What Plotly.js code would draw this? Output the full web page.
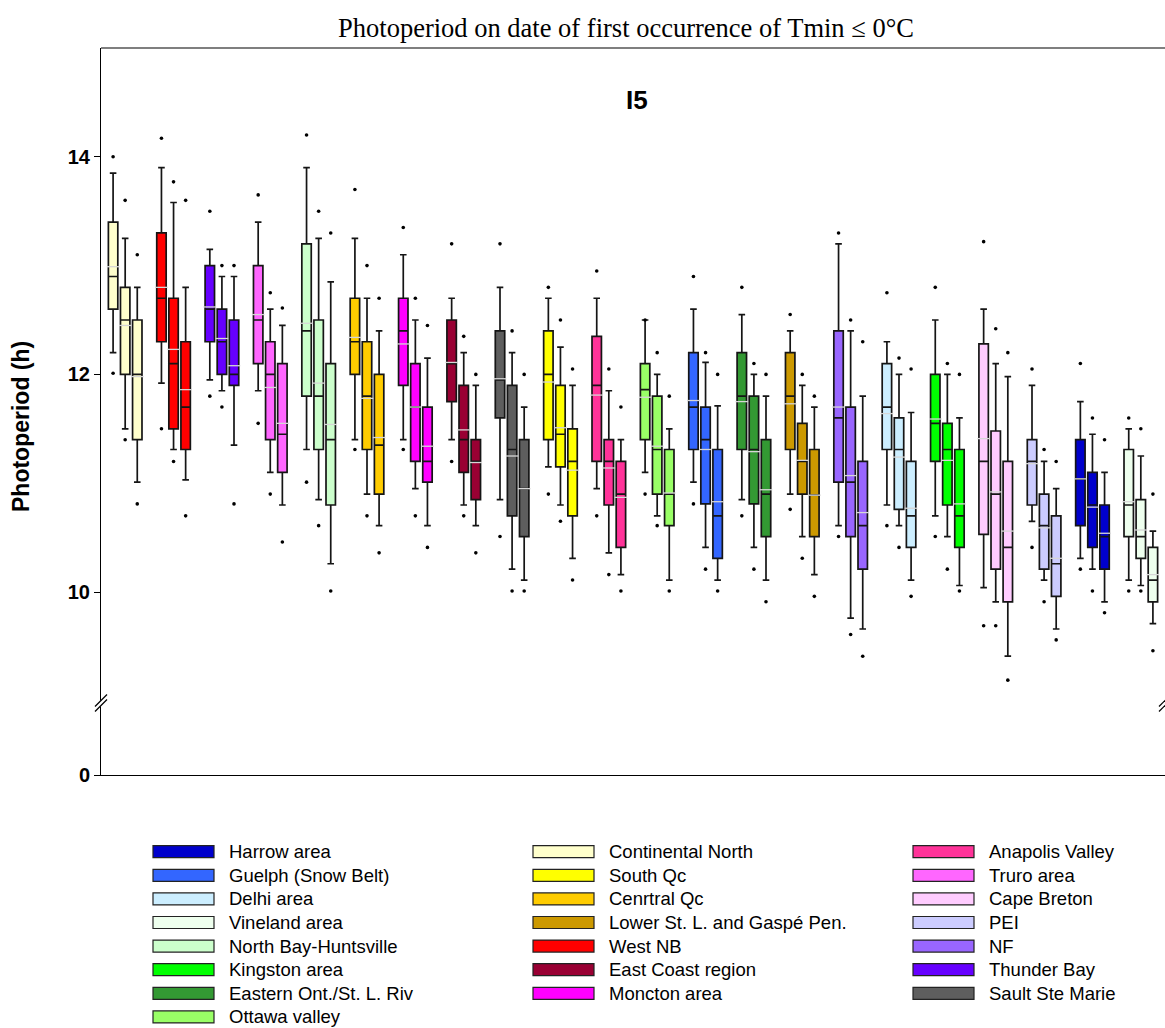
<!DOCTYPE html>
<html><head><meta charset="utf-8">
<script src="https://cdn.plot.ly/plotly-3.0.1.min.js"></script>
<style>body{margin:0;background:#fff}</style>
</head><body><div id="chart" style="width:1165px;height:1028px"></div>
<script>
// Regions in plot order (left to right); each has 3 boxes
const regions = ["Continental North","West NB","Thunder Bay","Truro area","North Bay-Huntsville","Cenrtral Qc","Moncton area","East Coast region","Sault Ste Marie","South Qc","Anapolis Valley","Ottawa valley","Guelph (Snow Belt)","Eastern Ont./St. L. Riv","Lower St. L. and Gaspé Pen.","NF","Delhi area","Kingston area","Cape Breton","PEI","Harrow area","Vineland area"];
const colors = ["#FFFFCC","#FF0000","#6600FF","#FF66FF","#CCFFCC","#FFCC00","#FF00FF","#990033","#5E5E5E","#FFFF00","#FF3399","#99FF66","#3366FF","#339933","#CC9900","#9966FF","#CCEEFF","#00FF00","#FFCCFF","#CCCCFF","#0000CC","#EEFFEE"];

// Statistics (hours), three boxes per region
const upperDot = [[14.00,13.60,13.10],[14.17,13.77,13.60],[13.50,13.00,13.00],[13.65,12.75,12.61],[14.20,13.50,13.30],[13.70,13.00,12.70],[13.35,12.70,12.45],[13.20,12.35,12.00],[13.20,12.40,12.00],[12.80,12.50,12.05],[12.95,12.05,11.70],[12.50,12.20,11.80],[12.90,12.20,12.00],[12.80,12.10,12.00],[12.55,12.00,11.80],[13.30,12.50,12.30],[12.75,12.15,12.05],[12.80,12.10,12.00],[13.22,12.42,12.20],[12.05,11.31,11.20],[12.10,11.60,11.40],[11.60,11.50,10.90]];
const upperWhisker = [[13.85,13.25,12.80],[13.90,13.58,12.80],[13.15,12.90,12.90],[13.40,12.60,12.45],[13.90,13.25,12.85],[13.25,12.70,12.40],[13.10,12.50,12.15],[12.70,12.20,11.90],[12.80,12.20,11.70],[12.70,12.25,11.90],[12.70,11.85,11.40],[12.50,12.00,11.50],[12.60,12.11,11.71],[12.55,12.00,11.80],[12.40,11.90,11.70],[13.20,12.40,11.80],[12.30,12.00,11.65],[12.50,12.00,11.60],[12.60,12.10,11.98],[11.90,11.20,10.95],[11.75,11.45,11.10],[11.50,11.25,10.56]];
const q3 = [[13.40,12.80,12.50],[13.30,12.70,12.30],[13.00,12.60,12.50],[13.00,12.30,12.10],[13.20,12.50,12.10],[12.70,12.30,12.00],[12.70,12.10,11.70],[12.50,11.90,11.40],[12.40,11.90,11.40],[12.40,11.90,11.50],[12.35,11.40,11.20],[12.10,11.80,11.31],[12.20,11.70,11.31],[12.20,11.80,11.40],[12.20,11.55,11.31],[12.40,11.70,11.20],[12.10,11.60,11.20],[12.00,11.55,11.31],[12.28,11.48,11.20],[11.40,10.90,10.70],[11.40,11.10,10.80],[11.31,10.85,10.41]];
const median = [[12.90,12.50,12.00],[12.70,12.10,11.70],[12.60,12.30,12.00],[12.50,12.00,11.45],[12.40,11.80,11.40],[12.30,11.80,11.35],[12.40,11.70,11.20],[12.10,11.40,11.20],[11.95,11.31,10.95],[12.00,11.45,11.20],[11.90,11.20,10.90],[11.86,11.31,10.90],[11.70,11.40,10.70],[11.80,11.31,10.90],[11.80,11.20,10.89],[11.60,11.01,10.61],[11.70,11.31,10.70],[11.55,11.31,10.70],[11.20,10.90,10.41],[11.20,10.61,10.26],[11.04,10.80,10.51],[10.80,10.51,10.11]];
const mean = [[12.99,12.45,11.98],[12.80,12.23,11.86],[12.62,12.33,12.08],[12.55,11.88,11.55],[12.47,11.92,11.54],[12.34,11.78,11.42],[12.28,11.70,11.34],[12.11,11.49,11.19],[11.96,11.25,10.95],[11.93,11.51,11.12],[11.81,11.14,10.87],[11.79,11.34,10.91],[11.76,11.31,10.83],[11.75,11.29,10.94],[11.73,11.21,10.89],[11.70,11.07,10.73],[11.64,11.24,10.77],[11.59,11.21,10.81],[11.41,10.92,10.56],[11.18,10.59,10.31],[11.04,10.78,10.54],[10.83,10.57,10.16]];
const q1 = [[12.60,12.00,11.40],[12.30,11.50,11.31],[12.30,12.00,11.90],[12.10,11.40,11.10],[11.80,11.31,10.80],[12.00,11.31,10.90],[11.90,11.20,11.01],[11.75,11.10,10.85],[11.60,10.70,10.51],[11.40,11.15,10.70],[11.20,10.80,10.41],[11.40,10.90,10.61],[11.31,10.81,10.31],[11.31,10.81,10.51],[11.31,10.90,10.51],[11.01,10.51,10.21],[11.31,10.76,10.41],[11.20,10.80,10.41],[10.53,10.21,9.91],[10.80,10.21,9.96],[10.61,10.41,10.21],[10.51,10.31,9.91]];
const lowerWhisker = [[12.20,11.50,11.01],[11.92,11.31,11.03],[11.95,11.85,11.35],[11.85,11.10,10.80],[11.31,10.85,10.26],[11.40,10.90,10.61],[11.40,10.95,10.61],[11.40,10.80,10.61],[10.85,10.21,10.11],[11.15,10.80,10.31],[10.95,10.36,10.16],[11.10,10.70,10.11],[11.01,10.41,10.11],[10.85,10.41,10.11],[10.90,10.51,10.16],[10.61,9.76,9.66],[10.80,10.61,10.11],[10.70,10.51,10.06],[10.04,9.91,9.41],[10.65,10.11,9.66],[10.31,10.21,9.91],[10.11,10.06,9.71]];
const lowerDot = [[12.01,11.40,10.81],[11.50,11.20,10.70],[11.80,11.70,10.81],[11.55,10.90,10.46],[11.01,10.61,10.01],[11.31,10.70,10.36],[11.31,10.70,10.41],[11.20,10.70,10.36],[10.51,10.01,10.01],[10.90,10.65,10.11],[10.70,10.16,10.01],[10.90,10.61,10.01],[10.81,10.21,10.01],[10.70,10.21,9.91],[10.76,10.31,9.96],[10.51,9.61,9.41],[10.61,10.41,9.96],[10.51,10.21,10.01],[9.69,9.69,9.19],[10.41,9.91,9.56],[10.21,10.01,9.81],[10.01,10.01,9.46]];

// Legend order (three columns)
const legendColumns = [
  ["Harrow area","Guelph (Snow Belt)","Delhi area","Vineland area","North Bay-Huntsville","Kingston area","Eastern Ont./St. L. Riv","Ottawa valley"],
  ["Continental North","South Qc","Cenrtral Qc","Lower St. L. and Gaspé Pen.","West NB","East Coast region","Moncton area"],
  ["Anapolis Valley","Truro area","Cape Breton","PEI","NF","Thunder Bay","Sault Ste Marie"]
];

const W = 1165, H = 1028, L = 101, R = 0, T = 48, B = 253;
const PW = W - L - R, PH = H - T - B;
const breakFrac = (775 - 703) / PH;
const px2x = p => (p - L) / PW;
const py2y = p => (H - B - p) / PH;

const traces = [];
const allX = [], meanY = [], dotX = [], dotY = [];
regions.forEach((name, i) => {
  const xs = [4*i+1, 4*i+2, 4*i+3];
  traces.push({
    type: 'box', name: name, x: xs,
    q1: q1[i], median: median[i], q3: q3[i],
    lowerfence: lowerWhisker[i], upperfence: upperWhisker[i],
    fillcolor: colors[i], line: {color: '#151515', width: 1.7},
    width: 0.78, whiskerwidth: 0.7, boxpoints: false,
    showlegend: false, hoverinfo: 'skip', xaxis: 'x', yaxis: 'y'
  });
  xs.forEach((x, j) => {
    allX.push(x); meanY.push(mean[i][j]);
    dotX.push(x, x); dotY.push(upperDot[i][j], lowerDot[i][j]);
  });
});
traces.push({type:'scatter', mode:'markers', x: allX, y: meanY, showlegend:false, hoverinfo:'skip',
  marker:{symbol:'line-ew', size:9, line:{color:'#D6D6D6', width:1.3}}});
traces.push({type:'scatter', mode:'markers', x: dotX, y: dotY, showlegend:false, hoverinfo:'skip',
  marker:{symbol:'circle', size:3.6, color:'#000'}});
// empty trace so that the lower (broken) axis segment is drawn
traces.push({type:'scatter', mode:'markers', x: [], y: [], xaxis:'x', yaxis:'y2', showlegend:false, hoverinfo:'skip'});

const shapes = [
  {type:'line', xref:'paper', yref:'paper', x0:0, x1:1, y0:1, y1:1, line:{color:'#000', width:1.2}}
];
// axis break marks
[0, 1].forEach(xa => {
  shapes.push({type:'line', xref:'paper', yref:'paper', xsizemode:'pixel', ysizemode:'pixel', xanchor:xa, yanchor:breakFrac,
    x0:-6, x1:6, y0:-6, y1:6, line:{color:'#fff', width:4}});
  [-2.5, 2.5].forEach(off => shapes.push({type:'line', xref:'paper', yref:'paper', xsizemode:'pixel', ysizemode:'pixel', xanchor:xa, yanchor:breakFrac,
    x0:-6, x1:6, y0:-6+off, y1:6+off, line:{color:'#000', width:1.2}}));
});

const annotations = [
  {text:'I5', xref:'paper', yref:'paper', x:px2x(637), y:py2y(100), showarrow:false, xanchor:'center', yanchor:'middle',
   font:{family:'Liberation Sans, Arial, sans-serif', size:26, weight:'bold', color:'#000'}},
  {text:'Photoperiod (h)', xref:'paper', yref:'paper', x:px2x(21), y:py2y(427), showarrow:false, textangle:-90, xanchor:'center', yanchor:'middle',
   font:{family:'Liberation Sans, Arial, sans-serif', size:23, weight:'bold', color:'#000'}}
];

const colX = [153, 533, 913];
legendColumns.forEach((col, c) => {
  col.forEach((name, r) => {
    const cy = 851.7 + 23.6 * r;
    const idx = regions.indexOf(name);
    shapes.push({type:'rect', xref:'paper', yref:'paper', x0:px2x(colX[c]), x1:px2x(colX[c]+61), y0:py2y(cy+6), y1:py2y(cy-6),
      fillcolor: colors[idx], line:{color:'#222', width:1.2}});
    annotations.push({text:name, xref:'paper', yref:'paper', x:px2x(colX[c]+74), y:py2y(cy), showarrow:false, xanchor:'left', yanchor:'middle',
      font:{family:'Liberation Sans, Arial, sans-serif', size:18.5, color:'#000'}});
  });
});

const tickFont = {family:'Liberation Sans, Arial, sans-serif', size:20, weight:'bold', color:'#000'};
const layout = {
  width: W, height: H, margin:{l:L, r:R, t:T, b:B},
  paper_bgcolor:'#fff', plot_bgcolor:'#fff', boxmode:'overlay', showlegend:false,
  title:{text:'Photoperiod on date of first occurrence of Tmin ≤ 0°C', xref:'container', yref:'container', x:626/W, y:1-28/H, xanchor:'center', yanchor:'middle',
    font:{family:'Liberation Serif, Times New Roman, serif', size:26.5, color:'#000'}},
  xaxis:{range:[0,88], anchor:'y2', showline:true, linecolor:'#000', linewidth:1.2, showticklabels:false, ticks:'', showgrid:false, zeroline:false, fixedrange:true},
  yaxis:{domain:[breakFrac,1], range:[8.98,15], anchor:'x', tickvals:[10,12,14], ticks:'outside', ticklen:6, tickcolor:'#000', tickwidth:1,
    showline:true, linecolor:'#000', linewidth:1, showgrid:false, zeroline:false, tickfont:tickFont},
  yaxis2:{domain:[0,breakFrac], range:[0,1], anchor:'x', tickvals:[0], ticks:'outside', ticklen:6, tickcolor:'#000', tickwidth:1,
    showline:true, linecolor:'#000', linewidth:1, showgrid:false, zeroline:false, tickfont:tickFont},
  shapes: shapes, annotations: annotations
};
Plotly.newPlot('chart', traces, layout, {displayModeBar:false, staticPlot:true});
</script></body></html>
